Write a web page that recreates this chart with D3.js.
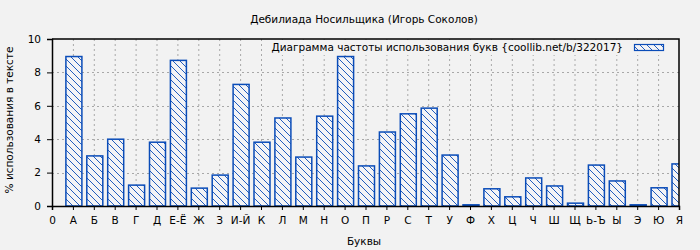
<!DOCTYPE html>
<html><head><meta charset="utf-8">
<script src="https://cdn.jsdelivr.net/npm/d3@7"></script>
<style>
html,body{margin:0;padding:0;background:#f2f2f2;}
svg{display:block;font-family:"DejaVu Sans",sans-serif;}
</style></head>
<body>
<svg id="c" width="700" height="250"></svg>
<script>
const title = "Дебилиада Носильщика (Игорь Соколов)";
const legendLabel = "Диаграмма частоты использования букв {coollib.net/b/322017}";
const xTitle = "Буквы";
const yTitle = "% использования в тексте";
const categories = ["0","А","Б","В","Г","Д","Е-Ё","Ж","З","И-Й","К","Л","М","Н","О","П","Р","С","Т","У","Ф","Х","Ц","Ч","Ш","Щ","Ь-Ъ","Ы","Э","Ю","Я"];
const values = [null,8.95,3.0,4.0,1.25,3.82,8.72,1.07,1.85,7.28,3.82,5.27,2.93,5.38,8.95,2.4,4.43,5.52,5.86,3.05,0.07,1.03,0.55,1.68,1.2,0.17,2.45,1.5,0.07,1.09,2.52];
const yTicks = [0,2,4,6,8,10];

const W=700,H=250, L=52, R=679, T=39, B=206;
const FS=10.5;
const blue="#0a4cb8";
const svg=d3.select("#c");
svg.append("rect").attr("width",W).attr("height",H).attr("fill","#f2f2f2");
const defs=svg.append("defs");
const P=7;
const pat=defs.append("pattern").attr("id","hatch").attr("patternUnits","userSpaceOnUse")
  .attr("width",P).attr("height",P);
pat.append("rect").attr("width",P).attr("height",P).attr("fill","#f4f4f6");
pat.append("path").attr("d",`M0,0L${P},${P}M${-P/2},${P/2}L${P/2},${1.5*P}M${P/2},${-P/2}L${1.5*P},${P/2}`).attr("stroke",blue).attr("stroke-width",0.9);
defs.append("clipPath").attr("id","clip").append("rect").attr("x",L).attr("y",T-2).attr("width",R-L).attr("height",B-T+4);

const x=d3.scalePoint().domain(categories).range([L,R]);
const y=d3.scaleLinear().domain([0,10]).range([B,T]);

// grid
const g=svg.append("g");
g.selectAll("line.v").data(categories.slice(1,-1)).join("line")
  .attr("x1",d=>x(d)+0.5).attr("x2",d=>x(d)+0.5).attr("y1",T).attr("y2",B)
  .attr("stroke","#a8a8a8").attr("stroke-dasharray","2,3");
g.selectAll("line.h").data(yTicks.slice(1,-1)).join("line")
  .attr("x1",L).attr("x2",R).attr("y1",d=>Math.round(y(d))+0.5).attr("y2",d=>Math.round(y(d))+0.5)
  .attr("stroke","#a8a8a8").attr("stroke-dasharray","2,3");

// bars
const data=categories.map((c,i)=>({c,v:values[i]})).filter(d=>d.v!=null);
svg.append("g").attr("clip-path","url(#clip)").selectAll("rect").data(data).join("rect")
  .attr("x",d=>x(d.c)-7).attr("width",16)
  .attr("y",d=>y(d.v)).attr("height",d=>Math.max(0,B-y(d.v)))
  .attr("fill","url(#hatch)").attr("stroke",blue).attr("stroke-width",1.5);

// legend background (hides grid under legend)
svg.append("rect").attr("x",270).attr("y",40).attr("width",398).attr("height",15).attr("fill","#f2f2f2");

// frame
svg.append("path").attr("d",`M${L},${T}H${R}V${B}`).attr("fill","none").attr("stroke","#000").attr("stroke-width",1.5);

// axes
const xa=svg.append("g").attr("transform",`translate(0,${B})`)
  .call(d3.axisBottom(x).tickSize(4).tickPadding(7));
xa.select(".domain").attr("stroke","#000").attr("stroke-width",1.5);
xa.selectAll("text").attr("font-size",FS).attr("fill","#000").attr("font-family","DejaVu Sans");
const ya=svg.append("g").attr("transform",`translate(${L},0)`)
  .call(d3.axisLeft(y).tickValues(yTicks).tickSize(5).tickPadding(6));
ya.select(".domain").attr("stroke","#000").attr("stroke-width",1.5);
ya.selectAll("text").attr("font-size",FS).attr("fill","#000").attr("font-family","DejaVu Sans");

// titles
svg.append("text").attr("x",364).attr("y",23).attr("text-anchor","middle").attr("font-size",FS).text(title);
svg.append("text").attr("x",364).attr("y",245).attr("text-anchor","middle").attr("font-size",FS).text(xTitle);
svg.append("text").attr("transform","translate(13,120) rotate(-90)").attr("text-anchor","middle").attr("font-size",FS).text(yTitle);

// legend
svg.append("text").attr("x",623).attr("y",51).attr("text-anchor","end").attr("font-size",FS).text(legendLabel);
svg.append("rect").attr("x",634.5).attr("y",44.5).attr("width",29).attr("height",6)
  .attr("fill","url(#hatch)").attr("stroke",blue).attr("stroke-width",1.2);
</script>
</body></html>
